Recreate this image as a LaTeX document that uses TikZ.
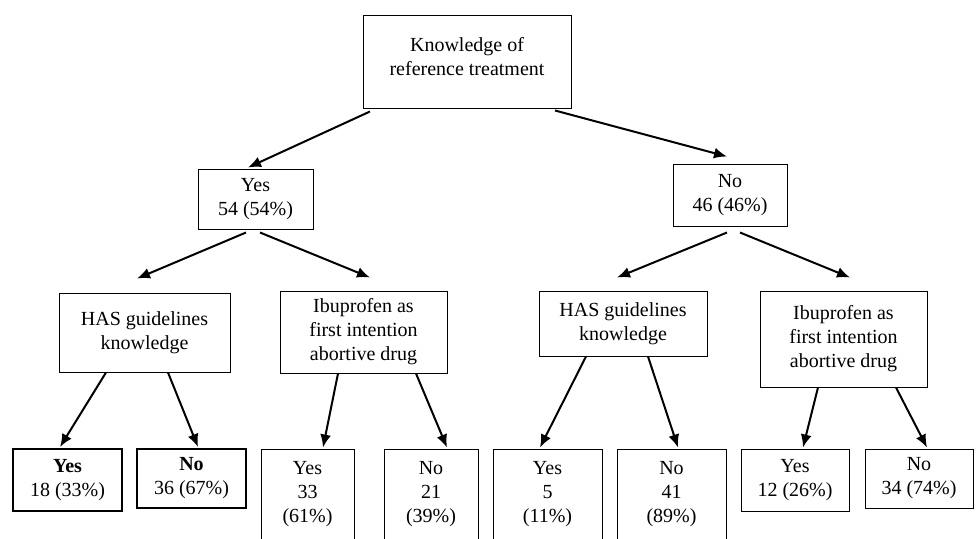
\documentclass[tikz,border=0pt]{standalone}
\usepackage{fontspec}
\setmainfont{Liberation Serif}
\usetikzlibrary{arrows.meta,calc}

\begin{document}
\begin{tikzpicture}[
	x=0.5pt, y=-0.5pt,
	box/.style={draw, line width=0.5pt, rectangle, align=center, inner sep=2pt},
	leaf/.style={box, line width=1pt},
	tall/.style={box, minimum height=45.5pt},
	arrow/.style={-{Latex[length=6.5pt,width=5.5pt]}, line width=1pt}
]
\useasboundingbox (0,0) rectangle (976,538);

% The boxes
\node[box, minimum width=104pt, minimum height=46.5pt, text depth=5pt] (top) at (467,61.5) {Knowledge of\\reference treatment};

\node[box, minimum width=57.5pt, minimum height=30pt] (yes) at (255.5,199) {Yes\\54 (54\%)};
\node[box, minimum width=57pt, minimum height=31pt] (no) at (730,195) {No\\46 (46\%)};

\node[box, minimum width=85.5pt, minimum height=39.5pt] (hasL) at (144.5,332.5) {HAS guidelines\\knowledge};
\node[box, minimum width=83.5pt, minimum height=41pt] (ibuL) at (363.5,332) {Ibuprofen as\\first intention\\abortive drug};
\node[box, minimum width=84pt, minimum height=32.5pt] (hasR) at (623,323.5) {HAS guidelines\\knowledge};
\node[box, minimum width=83.5pt, minimum height=48pt] (ibuR) at (843.5,339) {Ibuprofen as\\first intention\\abortive drug};

\node[leaf, minimum width=54.5pt, minimum height=31pt] (yesA) at (67.5,480) {\textbf{Yes}\\18 (33\%)};
\node[leaf, minimum width=54.5pt, minimum height=29.5pt] (noA) at (191.5,478.5) {\textbf{No}\\36 (67\%)};
\node[tall, minimum width=46.5pt] (yesB) at (307.5,494.5) {Yes\\33\\(61\%)};
\node[tall, minimum width=47pt] (noB) at (431,494.5) {No\\21\\(39\%)};
\node[tall, minimum width=54.5pt] (yesC) at (547.5,494.5) {Yes\\5\\(11\%)};
\node[tall, minimum width=54.5pt] (noC) at (671.5,494.5) {No\\41\\(89\%)};
\node[box, minimum width=54pt, minimum height=31pt] (yesD) at (795,480) {Yes\\12 (26\%)};
\node[box, minimum width=54pt, minimum height=29.5pt] (noD) at (919,478.5) {No\\34 (74\%)};

% The connections
\draw[arrow] ($(top.south)+(-97,3)$) -- ($(yes.north)+(-7.5,-1)$);
\draw[arrow] ($(top.south)+(88,2)$) -- ($(no.north)+(-3,-7)$);

\draw[arrow] ($(yes.south)+(-9.5,3)$) -- ($(hasL.north)+(-7.5,-14)$);
\draw[arrow] ($(yes.south)+(4.5,3)$) -- ($(ibuL.north)+(6.5,-13)$);
\draw[arrow] ($(no.south)+(-3,6)$) -- ($(hasR.north)+(-6,-13)$);
\draw[arrow] ($(no.south)+(10,6)$) -- ($(ibuR.north)+(6.5,-13)$);

\draw[arrow] ($(hasL.south)+(-38.5,0)$) -- ($(yesA.north)+(-7.5,-1)$);
\draw[arrow] ($(hasL.south)+(23.5,0)$) -- ($(noA.north)+(6.5,-1)$);
\draw[arrow] ($(ibuL.south)+(-25.5,0)$) -- ($(yesB.north)+(15.5,-1)$);
\draw[arrow] ($(ibuL.south)+(52.5,0)$) -- ($(noB.north)+(16,-1)$);
\draw[arrow] ($(hasR.south)+(-37,0)$) -- ($(yesC.north)+(-7.5,-1)$);
\draw[arrow] ($(hasR.south)+(25,0)$) -- ($(noC.north)+(6.5,-1)$);
\draw[arrow] ($(ibuR.south)+(-25.5,0)$) -- ($(yesD.north)+(8,-1)$);
\draw[arrow] ($(ibuR.south)+(52.5,0)$) -- ($(noD.north)+(8,-1)$);

\end{tikzpicture}
\end{document}
